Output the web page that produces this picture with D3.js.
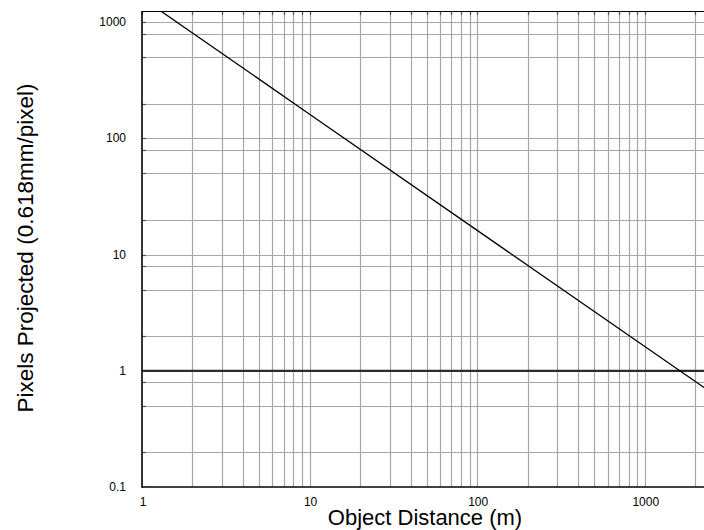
<!DOCTYPE html>
<html lang="en">
<head>
  <meta charset="utf-8">
  <script src="https://d3js.org/d3.v7.min.js"></script>
  <style>
    body { margin: 0; background: #fff; }
    svg { display: block; font-family: "Liberation Sans", Arial, sans-serif; }
  </style>
</head>
<body>
  <svg></svg>
  <script>
    // values
    var distance = [1, 10, 100, 1000, 10000];          // m
    var pixels = [1618, 161.8, 16.18, 1.618, 0.1618];  // pixels projected
    var threshold = [1];

    var xDecades = [1, 10, 100, 1000];
    var xMultiples = [1, 2, 3, 4, 5, 6, 7, 8, 9];
    var yDecades = [0.1, 1, 10, 100, 1000];
    var yMultiples = [1, 2, 5, 8];
    var xTickLabels = ['1', '10', '100', '1000'];
    var yTickLabels = ['0.1', '1', '10', '100', '1000'];

    var width = 704, height = 530;
    var plotLeft = 142, plotTop = 11, plotBottom = 487;

    var x = d3.scaleLog().domain([1, 10000]).range([plotLeft, plotLeft + 4 * 167.6]);
    var y = d3.scaleLog().domain([0.1, 1000]).range([plotBottom, 22.3]);
    var plotRight = x.range()[1];

    var svg = d3.select('svg')
      .attr('width', width)
      .attr('height', height);

    svg.append('clipPath').attr('id', 'plot')
      .append('rect')
      .attr('x', plotLeft).attr('y', plotTop)
      .attr('width', plotRight - plotLeft).attr('height', plotBottom - plotTop);

    var g = svg.append('g').attr('clip-path', 'url(#plot)');

    // grid values
    var xGrid = [];
    xDecades.forEach(function (d) {
      xMultiples.forEach(function (m) { xGrid.push(d * m); });
    });
    xGrid.push(10000);
    var yGrid = [];
    yDecades.forEach(function (d) {
      yMultiples.forEach(function (m) {
        var v = d * m;
        if (v <= 1250 && v !== 1) yGrid.push(v);
      });
    });

    g.selectAll('line.vgrid')
      .data(xGrid.filter(function (v) { return v > 1; }))
      .enter().append('line')
      .attr('class', 'vgrid')
      .attr('x1', function (d) { return Math.round(x(d)) + 0.5; })
      .attr('x2', function (d) { return Math.round(x(d)) + 0.5; })
      .attr('y1', plotTop).attr('y2', plotBottom)
      .attr('stroke', '#a6a6a6').attr('stroke-width', 1.2);

    g.selectAll('line.hgrid')
      .data(yGrid.filter(function (v) { return v > 0.1; }))
      .enter().append('line')
      .attr('class', 'hgrid')
      .attr('x1', plotLeft).attr('x2', plotRight)
      .attr('y1', function (d) { return Math.round(y(d)) + 0.5; })
      .attr('y2', function (d) { return Math.round(y(d)) + 0.5; })
      .attr('stroke', '#a6a6a6').attr('stroke-width', 1.2);

    // small ticks on the axes
    g.selectAll('line.ytick')
      .data(yGrid)
      .enter().append('line')
      .attr('class', 'ytick')
      .attr('x1', plotLeft).attr('x2', plotLeft + 4)
      .attr('y1', function (d) { return Math.round(y(d)) + 0.5; })
      .attr('y2', function (d) { return Math.round(y(d)) + 0.5; })
      .attr('stroke', '#555').attr('stroke-width', 1.2);

    g.selectAll('line.xtick')
      .data(xGrid)
      .enter().append('line')
      .attr('class', 'xtick')
      .attr('x1', function (d) { return Math.round(x(d)) + 0.5; })
      .attr('x2', function (d) { return Math.round(x(d)) + 0.5; })
      .attr('y1', plotTop).attr('y2', plotTop + 4)
      .attr('stroke', '#555').attr('stroke-width', 1.2);

    // threshold line at 1 pixel
    g.selectAll('line.thresh')
      .data(threshold)
      .enter().append('line')
      .attr('class', 'thresh')
      .attr('x1', plotLeft).attr('x2', plotRight)
      .attr('y1', function (d) { return y(d); })
      .attr('y2', function (d) { return y(d); })
      .attr('stroke', '#2a2a2a').attr('stroke-width', 2.2);

    // projection line
    var line = d3.line()
      .x(function (d, i) { return x(distance[i]); })
      .y(function (d) { return y(d); });

    g.append('path')
      .datum(pixels)
      .attr('d', line)
      .attr('fill', 'none')
      .attr('stroke', '#000')
      .attr('stroke-width', 1.3);

    // frame
    svg.append('line')
      .attr('x1', plotLeft).attr('x2', plotRight).attr('y1', plotTop + 0.5).attr('y2', plotTop + 0.5)
      .attr('stroke', '#000').attr('stroke-width', 1.2);
    svg.append('line')
      .attr('x1', plotLeft).attr('x2', plotRight).attr('y1', plotBottom).attr('y2', plotBottom)
      .attr('stroke', '#000').attr('stroke-width', 1.6);
    svg.append('line')
      .attr('x1', plotLeft).attr('x2', plotLeft).attr('y1', plotTop).attr('y2', plotBottom + 0.8)
      .attr('stroke', '#000').attr('stroke-width', 1.6);

    // tick labels
    svg.selectAll('text.xlab')
      .data(xDecades)
      .enter().append('text')
      .attr('class', 'xlab')
      .attr('x', function (d) { return x(d) + 1; })
      .attr('y', 506)
      .attr('text-anchor', 'middle')
      .style('font-size', '12px')
      .text(function (d, i) { return xTickLabels[i]; });

    svg.selectAll('text.ylab')
      .data(yDecades)
      .enter().append('text')
      .attr('class', 'ylab')
      .attr('x', 126)
      .attr('y', function (d) { return y(d) + 4; })
      .attr('text-anchor', 'end')
      .style('font-size', '12px')
      .text(function (d, i) { return yTickLabels[i]; });

    // axis titles
    svg.append('text')
      .attr('x', 425)
      .attr('y', 525)
      .attr('text-anchor', 'middle')
      .style('font-size', '22px')
      .text('Object Distance (m)');

    svg.append('text')
      .attr('transform', 'translate(33,248) rotate(-90)')
      .attr('text-anchor', 'middle')
      .style('font-size', '22.5px')
      .text('Pixels Projected (0.618mm/pixel)');
  </script>
</body>
</html>
